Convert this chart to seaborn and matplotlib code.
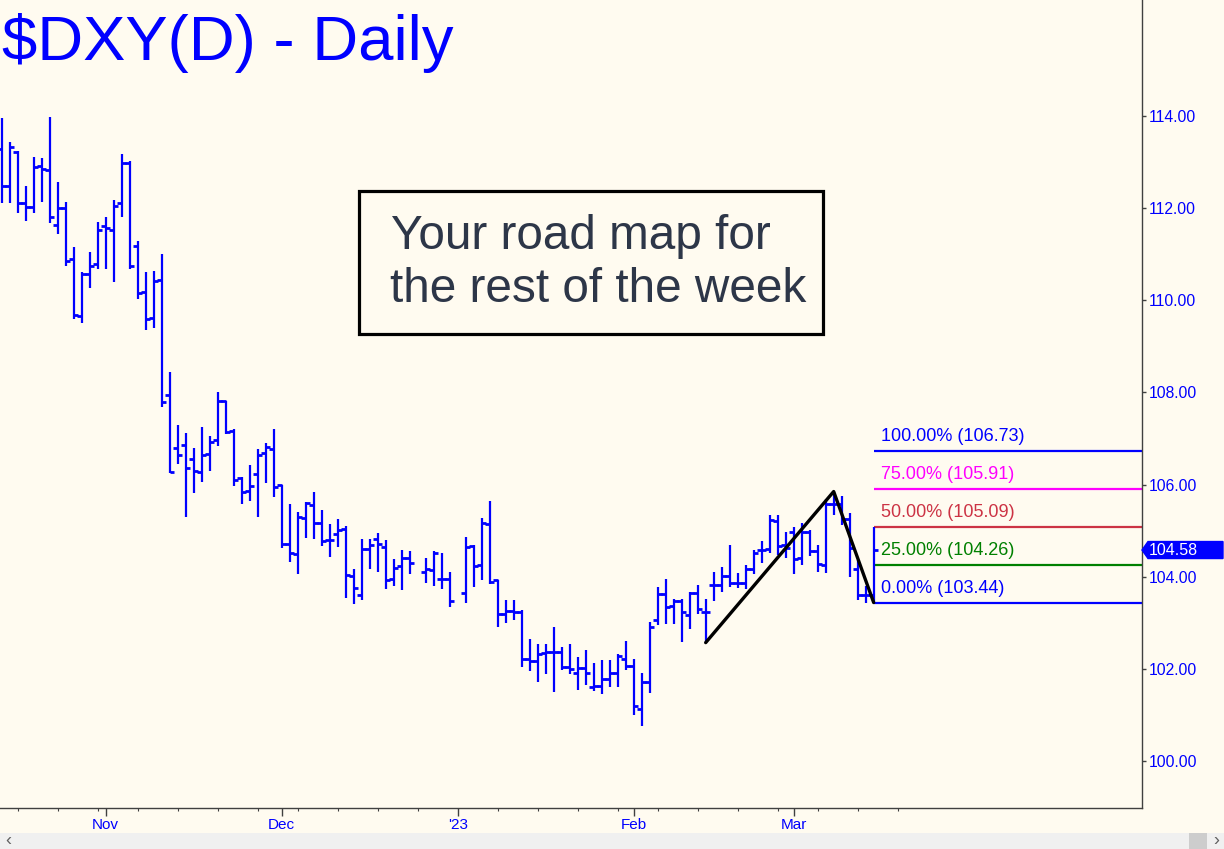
import numpy as np
import pandas as pd
import matplotlib
matplotlib.use("Agg")
import matplotlib.pyplot as plt
import matplotlib.patches as mpatches
import matplotlib.transforms as mtrans
import seaborn as sns

# ---------------- data ----------------
start_date = "2022-10-13"
end_date = "2023-03-15"

opens = [113.28, 112.48, 113.23, 112.11, 112.02, 112.91, 112.84, 111.63, 112.00, 110.89,
         109.67, 110.57, 110.79, 111.61, 111.53, 112.11, 112.99, 111.18, 110.19, 109.61,
         110.44, 107.94, 106.79, 106.85, 106.55, 106.27, 106.66, 106.96, 107.81, 107.16,
         106.14, 105.86, 106.22, 106.68, 106.77, 105.99, 104.71, 104.49, 105.27, 105.56,
         105.16, 104.79, 104.92, 105.03, 104.01, 103.60, 104.60, 104.81, 104.65, 103.95,
         104.23, 104.40, None, 104.10, 104.15, 103.95, 103.95, None, 103.64, 104.67,
         104.25, 105.14, 103.93, 103.19, 103.26, 103.24, 102.21, 102.17, 102.35, 102.36,
         102.37, 102.03, 101.90, 102.01, 101.60, 101.63, 101.79, 101.92, 102.21, 102.06,
         101.13, 101.71, 103.07, 103.62, 103.37, 103.48, 103.17, 103.64, 103.24, 103.82,
         103.82, 104.02, 103.87, 103.87, 104.16, 104.57, 104.60, 105.22, 104.69, 104.98,
         104.40, 104.98, 104.56, 104.25, 105.58, 105.59, 105.25, 104.16, 103.60, 103.60]

highs = [113.95, 113.44, 113.25, 112.48, 113.12, 113.10, 113.97, 112.56, 112.14, 111.15,
         110.62, 111.05, 111.69, 111.80, 112.18, 113.17, 113.02, 111.28, 110.62, 110.64,
         111.00, 108.45, 107.29, 107.11, 106.79, 107.24, 107.05, 108.00, 107.82, 107.21,
         106.16, 106.43, 106.77, 106.90, 107.20, 106.00, 105.59, 105.40, 105.63, 105.83,
         105.45, 105.15, 105.26, 105.10, 104.16, 104.83, 104.83, 104.94, 104.80, 104.38,
         104.59, 104.56, None, 104.40, 104.55, 104.51, 104.10, None, 104.86, 104.69,
         105.27, 105.64, 103.94, 103.49, 103.49, 103.28, 102.65, 102.55, 102.55, 102.91,
         102.47, 102.55, 102.26, 102.42, 102.12, 102.19, 102.19, 102.32, 102.60, 102.21,
         101.90, 103.02, 103.78, 103.96, 103.51, 103.51, 103.67, 103.82, 103.51, 104.11,
         104.22, 104.69, 104.09, 104.25, 104.59, 104.77, 105.35, 105.35, 104.98, 105.09,
         105.16, 105.01, 104.69, 105.68, 105.85, 105.75, 105.38, 104.36, 103.80, 105.09]

lows = [112.12, 112.12, 111.89, 111.73, 111.89, 112.14, 111.67, 111.45, 110.74, 109.60,
        109.50, 110.26, 110.69, 110.69, 110.40, 111.80, 110.69, 110.02, 109.35, 109.41,
        107.68, 106.25, 106.44, 105.30, 105.82, 106.06, 106.30, 106.84, 107.09, 105.98,
        105.58, 105.65, 105.29, 106.03, 105.74, 104.62, 104.33, 104.07, 104.85, 104.83,
        104.67, 104.43, 104.64, 103.54, 103.40, 103.49, 104.16, 104.10, 103.73, 103.80,
        103.71, 104.07, None, 103.86, 103.81, 103.73, 103.34, None, 103.43, 103.78,
        103.94, 103.84, 102.90, 102.99, 103.07, 102.03, 101.95, 101.72, 101.88, 101.49,
        101.98, 101.88, 101.54, 101.65, 101.52, 101.45, 101.61, 101.61, 101.97, 101.00,
        100.77, 101.48, 102.95, 102.97, 102.97, 102.59, 102.86, 103.20, 102.57, 103.48,
        103.67, 103.78, 103.75, 103.73, 104.07, 104.29, 104.51, 104.47, 104.40, 104.06,
        104.25, 104.45, 104.11, 104.09, 105.34, 105.12, 104.00, 103.49, 103.44, 103.44]

closes = [112.48, 113.32, 112.11, 112.02, 112.89, 112.86, 111.81, 112.00, 110.85, 109.69,
          110.57, 110.74, 111.53, 111.56, 112.05, 112.99, 110.74, 110.17, 109.59, 110.42,
          107.79, 106.27, 106.64, 106.37, 106.29, 106.64, 106.92, 107.81, 107.14, 106.11,
          105.83, 105.97, 106.64, 106.81, 105.94, 104.71, 104.52, 105.29, 105.61, 105.16,
          104.78, 104.79, 105.01, 104.03, 103.75, 104.60, 104.69, 104.71, 103.94, 104.20,
          104.40, 104.29, None, 104.16, 104.52, 103.95, 103.47, None, 104.64, 104.23,
          105.16, 103.88, 103.19, 103.26, 103.24, 102.21, 102.17, 102.32, 102.36, 102.37,
          102.03, 102.00, 102.01, 101.90, 101.63, 101.78, 101.92, 102.28, 102.06, 101.19,
          101.72, 102.91, 103.62, 103.35, 103.48, 103.23, 103.64, 103.29, 103.24, 103.82,
          104.02, 103.87, 103.87, 104.16, 104.52, 104.58, 105.23, 104.67, 104.62, 104.38,
          104.98, 104.56, 104.28, 105.58, 105.59, 105.25, 104.62, 103.60, 103.60, 104.58]

month_labels = ["Nov", "Dec", "'23", "Feb", "Mar"]
month_dates = ["2022-11-01", "2022-12-01", "2023-01-02", "2023-02-01", "2023-03-01"]
week_tick_end = "2023-03-20"
ytick_values = [100, 102, 104, 106, 108, 110, 112, 114]

swing_dates = ["2023-02-14", "2023-03-08", "2023-03-15"]
swing_prices = [102.57, 105.85, 103.44]

fib_pcts = [100, 75, 50, 25, 0]
fib_values = [106.73, 105.91, 105.09, 104.26, 103.44]
fib_colors = ["#0000ff", "#ff00ff", "#cc3344", "#008000", "#0000ff"]
fib_start_date = "2023-03-15"

last_price = 104.58

title_text = "$DXY(D) - Daily"
note_lines = ["Your road map for", "the rest of the week"]

# ---------------- style ----------------
BG = "#fffbf0"
BLUE = "#0000ff"
AXC = "#404040"

sns.set_theme(style="white")
plt.rcParams["font.family"] = ["Liberation Sans", "DejaVu Sans"]

dates = pd.bdate_range(start_date, end_date)
ext_dates = pd.bdate_range(start_date, week_tick_end)
pos = {d: k for k, d in enumerate(ext_dates)}

df = pd.DataFrame({
    "date": dates,
    "x": np.arange(len(dates), dtype=float),
    "open": pd.Series(opens, dtype="float"),
    "high": pd.Series(highs, dtype="float"),
    "low": pd.Series(lows, dtype="float"),
    "close": pd.Series(closes, dtype="float"),
}).dropna()

W, H = 1224, 849
fig = plt.figure(figsize=(W / 100, H / 100), dpi=100, facecolor=BG)
ax = fig.add_axes([0, 41 / H, 1142 / W, 808 / H])
ax.set_facecolor(BG)
XMAX = 142.54
ax.set_xlim(-0.21, XMAX)
ax.set_ylim(98.98, 116.52)

# OHLC bars
ax.vlines(df["x"], df["low"], df["high"], color=BLUE, lw=1.6, zorder=3)
ax.hlines(df["open"], df["x"] - 0.6, df["x"], color=BLUE, lw=2.0, zorder=3)
ax.hlines(df["close"], df["x"], df["x"] + 0.6, color=BLUE, lw=2.0, zorder=3)

# swing line
sx = [pos[pd.Timestamp(d)] for d in swing_dates]
sns.lineplot(x=sx, y=swing_prices, color="black", linewidth=2.4, sort=False,
             ax=ax, legend=False, zorder=4)

# fib levels
fx = pos[pd.Timestamp(fib_start_date)]
for p, v, c in zip(fib_pcts, fib_values, fib_colors):
    ax.hlines(v, fx, XMAX, color=c, lw=1.6, zorder=2)
    ax.annotate(f"{p:.2f}% ({v:.2f})", xy=(fx, v), xytext=(5.5, 7.2),
                textcoords="offset points", color=c, fontsize=13,
                ha="left", va="baseline", zorder=5)

# axes styling
for s in ["top", "left"]:
    ax.spines[s].set_visible(False)
for s in ["right", "bottom"]:
    ax.spines[s].set_color(AXC)
    ax.spines[s].set_linewidth(1.0)

ax.yaxis.tick_right()
ax.set_yticks(ytick_values)
ax.set_yticklabels([f"{v:.2f}" for v in ytick_values])
ax.tick_params(axis="y", direction="out", length=3, width=1, color=AXC,
               labelcolor=BLUE, labelsize=11.3, pad=2, right=True, left=False)

month_pos = [pos[pd.Timestamp(d)] for d in month_dates]
mondays = [pos[d] for d in ext_dates if d.weekday() == 0]
ax.set_xticks(month_pos)
ax.set_xticklabels(month_labels)
ax.set_xticks(mondays, minor=True)
ax.tick_params(axis="x", which="major", direction="out", length=6, width=1,
               color=AXC, labelcolor=BLUE, labelsize=11, pad=1, bottom=True)
ax.tick_params(axis="x", which="minor", direction="out", length=2.5, width=0.8,
               color=AXC, bottom=True)
ax.grid(False)

# last price marker
tr = mtrans.blended_transform_factory(ax.transAxes, ax.transData)
dx1 = 6 / 1142
dx2 = 81 / 1142
hh = 8.5 / 46.07
marker = mpatches.Polygon([(1.0, last_price), (1.0 + dx1, last_price + hh),
                           (1.0 + dx2, last_price + hh), (1.0 + dx2, last_price - hh),
                           (1.0 + dx1, last_price - hh)],
                          closed=True, transform=tr, facecolor=BLUE,
                          edgecolor=BLUE, clip_on=False, zorder=6)
ax.add_patch(marker)
ax.text(1.0 + 7 / 1142, last_price, f"{last_price:.2f}", transform=tr,
        color="white", fontsize=11.5, ha="left", va="center", clip_on=False, zorder=7)

# title
fig.text(2 / W, 1 - 60 / H, title_text, fontsize=45.6, color=BLUE,
         ha="left", va="baseline", parse_math=False)

# note box
box = mpatches.Rectangle((359 / W, 1 - 334 / H), (823 - 359) / W, (334 - 191) / H,
                         transform=fig.transFigure, facecolor=BG, edgecolor="black",
                         linewidth=2.3, zorder=8)
fig.add_artist(box)
fig.text(391 / W, 1 - 248.5 / H, note_lines[0], fontsize=34.4, color="#2d3648",
         ha="left", va="baseline", zorder=9)
fig.text(390 / W, 1 - 302.5 / H, note_lines[1], fontsize=34.4, color="#2d3648",
         ha="left", va="baseline", zorder=9)

# scrollbar strip
strip = mpatches.Rectangle((0, 0), 1, 16 / H, transform=fig.transFigure,
                           facecolor="#f0f0f0", edgecolor="none", zorder=1)
fig.add_artist(strip)
thumb = mpatches.Rectangle((1189 / W, 0), 18 / W, 16 / H, transform=fig.transFigure,
                           facecolor="#cdcdcd", edgecolor="none", zorder=2)
fig.add_artist(thumb)
fig.text(8 / W, 8 / H, "\u2039", fontsize=13, color="#606060", ha="center", va="center")
fig.text(1216 / W, 8 / H, "\u203a", fontsize=13, color="#606060", ha="center", va="center")

fig.savefig("out.png", dpi=100, facecolor=BG)
